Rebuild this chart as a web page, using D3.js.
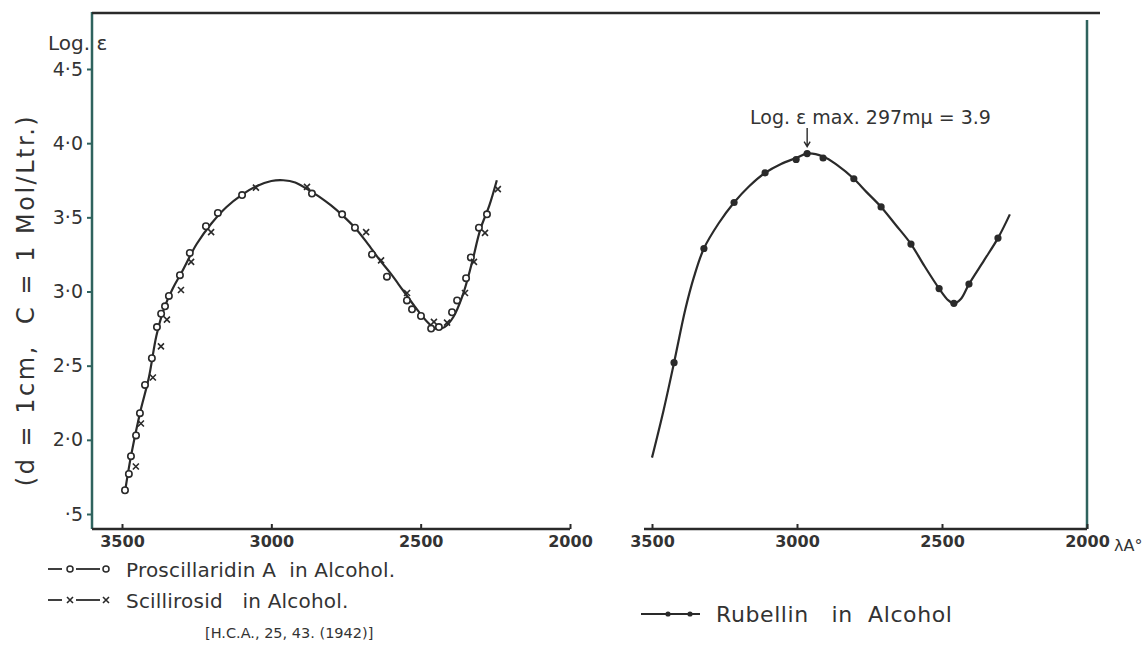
<!DOCTYPE html>
<html lang="en">
<head>
  <meta charset="UTF-8">
  <title>Log ε spectra</title>
  <script src="https://d3js.org/d3.v7.min.js"></script>
  <style>
    body { margin: 0; background: #fff; }
    text { font-family: "DejaVu Sans", sans-serif; fill: #333; white-space: pre; }
  </style>
</head>
<body>
  <svg id="chart" width="1148" height="668"></svg>

  <script>
    // wavelength ticks (Å) and log ε ticks
    const xTicks = [3500, 3000, 2500, 2000];
    const yTicks = [1.5, 2.0, 2.5, 3.0, 3.5, 4.0, 4.5];
    const yTickLabels = ['·5', '2·0', '2·5', '3·0', '3·5', '4·0', '4·5'];

    // Proscillaridin A (open circles) - [wavelength, log e]
    const proscillaridin = [
      [3490, 1.66], [3477, 1.77], [3470, 1.89], [3453, 2.03], [3440, 2.18],
      [3423, 2.37], [3400, 2.55], [3383, 2.76], [3369, 2.85], [3356, 2.90],
      [3343, 2.97], [3306, 3.11], [3273, 3.26], [3219, 3.44], [3179, 3.53],
      [3098, 3.65], [2864, 3.66], [2763, 3.52], [2720, 3.43], [2663, 3.25],
      [2613, 3.10], [2546, 2.94], [2529, 2.88], [2499, 2.835], [2465, 2.75],
      [2439, 2.76], [2395, 2.86], [2378, 2.94], [2348, 3.09], [2332, 3.23],
      [2305, 3.43], [2278, 3.52]
    ];

    // Scillirosid (crosses)
    const scillirosid = [
      [3467, 1.82], [3450, 2.11], [3410, 2.42], [3383, 2.63], [3363, 2.81],
      [3316, 3.01], [3282, 3.20], [3215, 3.40], [3065, 3.70], [2894, 3.705],
      [2696, 3.40], [2646, 3.21], [2559, 2.99], [2469, 2.795], [2425, 2.79],
      [2365, 2.99], [2335, 3.20], [2298, 3.395], [2255, 3.69]
    ];

    // hand drawn curve through both series
    const leftCurve = [
      [3490, 1.65], [3470, 1.89], [3440, 2.18], [3410, 2.42], [3385, 2.70],
      [3360, 2.88], [3330, 3.02], [3300, 3.13], [3250, 3.32], [3200, 3.46],
      [3150, 3.57], [3100, 3.65], [3050, 3.71], [3000, 3.745], [2960, 3.75],
      [2920, 3.735], [2880, 3.69], [2840, 3.64], [2800, 3.58], [2760, 3.51],
      [2720, 3.43], [2680, 3.33], [2640, 3.22], [2600, 3.12], [2560, 3.01],
      [2520, 2.90], [2480, 2.80], [2450, 2.75], [2420, 2.76], [2390, 2.83],
      [2360, 2.97], [2330, 3.18], [2300, 3.42], [2270, 3.58], [2245, 3.75]
    ];

    // Rubellin (filled dots)
    const rubellin = [
      [3424, 2.52], [3321, 3.29], [3217, 3.60], [3110, 3.80], [3003, 3.89],
      [2965, 3.93], [2910, 3.90], [2804, 3.76], [2710, 3.57], [2607, 3.32],
      [2510, 3.02], [2459, 2.92], [2407, 3.05], [2307, 3.36]
    ];

    const rightCurve = [
      [3500, 1.88], [3460, 2.20], [3424, 2.52], [3385, 2.88], [3355, 3.10],
      [3321, 3.29], [3270, 3.46], [3217, 3.60], [3165, 3.71], [3110, 3.80],
      [3055, 3.86], [3003, 3.90], [2965, 3.93], [2910, 3.91], [2860, 3.85],
      [2804, 3.76], [2760, 3.67], [2710, 3.57], [2660, 3.45], [2607, 3.32],
      [2560, 3.17], [2510, 3.02], [2478, 2.94], [2459, 2.92], [2435, 2.95],
      [2407, 3.05], [2355, 3.21], [2307, 3.36], [2266, 3.52]
    ];

    const svg = d3.select('#chart');
    const teal = '#2f635e';
    const ink = '#2a2a2a';

    const y = d3.scaleLinear().domain([1.5, 4.5]).range([514, 69]);
    const xLeft = d3.scaleLinear().domain([3500, 2000]).range([122, 570]);
    const xRight = d3.scaleLinear().domain([3500, 2000]).range([652, 1087]);
    const axisY = 529;

    // frame lines
    svg.append('line').attr('x1', 92).attr('x2', 92).attr('y1', 12).attr('y2', axisY)
      .attr('stroke', teal).attr('stroke-width', 2.5);
    svg.append('line').attr('x1', 92).attr('x2', 1100).attr('y1', 13).attr('y2', 13)
      .attr('stroke', ink).attr('stroke-width', 2.5);
    svg.append('line').attr('x1', 1087).attr('x2', 1087).attr('y1', 20).attr('y2', axisY)
      .attr('stroke', teal).attr('stroke-width', 2.5);
    svg.append('line').attr('x1', 92).attr('x2', xLeft(2000)).attr('y1', axisY).attr('y2', axisY)
      .attr('stroke', ink).attr('stroke-width', 2.5);
    svg.append('line').attr('x1', 644).attr('x2', 1087).attr('y1', axisY).attr('y2', axisY)
      .attr('stroke', ink).attr('stroke-width', 2.5);

    // y axis ticks
    const gy = svg.append('g').attr('transform', 'translate(92,0)')
      .call(d3.axisLeft(y).tickValues(yTicks).tickSize(5).tickPadding(4)
        .tickFormat((d, i) => yTickLabels[i]));
    gy.select('.domain').remove();
    gy.selectAll('line').attr('stroke', teal).attr('stroke-width', 2);
    gy.selectAll('text').style('font-size', '19px').attr('fill', '#333').attr('font-family', 'DejaVu Sans');

    // x axes
    [xLeft, xRight].forEach(xs => {
      const g = svg.append('g').attr('transform', `translate(0,${axisY})`)
        .call(d3.axisBottom(xs).tickValues(xTicks).tickSize(-5).tickPadding(7).tickFormat(d3.format('d')));
      g.select('.domain').remove();
      g.selectAll('line').attr('stroke', ink).attr('stroke-width', 2);
      g.selectAll('text').style('font-size', '16px').style('font-weight', 'bold')
        .attr('fill', '#333').attr('font-family', 'DejaVu Sans');
    });

    // curves
    const lineL = d3.line().x(d => xLeft(d[0])).y(d => y(d[1])).curve(d3.curveCatmullRom);
    const lineR = d3.line().x(d => xRight(d[0])).y(d => y(d[1])).curve(d3.curveCatmullRom);
    svg.append('path').datum(leftCurve).attr('d', lineL)
      .attr('fill', 'none').attr('stroke', ink).attr('stroke-width', 2.2);
    svg.append('path').datum(rightCurve).attr('d', lineR)
      .attr('fill', 'none').attr('stroke', ink).attr('stroke-width', 2.2);

    // markers
    svg.append('g').selectAll('circle').data(proscillaridin).join('circle')
      .attr('cx', d => xLeft(d[0])).attr('cy', d => y(d[1])).attr('r', 3.2)
      .attr('fill', '#fff').attr('stroke', ink).attr('stroke-width', 1.6);

    const cross = (g, cx, cy, s) => {
      g.append('path').attr('d', `M${cx - s},${cy - s}L${cx + s},${cy + s}M${cx - s},${cy + s}L${cx + s},${cy - s}`)
        .attr('stroke', ink).attr('stroke-width', 1.6).attr('fill', 'none');
    };
    const gx = svg.append('g');
    scillirosid.forEach(d => cross(gx, xLeft(d[0]) + 4, y(d[1]), 3));

    svg.append('g').selectAll('circle').data(rubellin).join('circle')
      .attr('cx', d => xRight(d[0])).attr('cy', d => y(d[1])).attr('r', 3.6)
      .attr('fill', ink);

    // labels
    svg.append('text').attr('x', 48).attr('y', 50).style('font-size', '20px').text('Log. ε');
    svg.append('text')
      .attr('transform', 'translate(34,300) rotate(-90)')
      .attr('text-anchor', 'middle').style('font-size', '24px').style('letter-spacing', '2.5px')
      .text('(d = 1cm,  C = 1 Mol/Ltr.)');
    svg.append('text').attr('x', 1114).attr('y', 551).style('font-size', '16px').text('λA°');

    // annotation at max
    svg.append('text').attr('x', 750).attr('y', 124).style('font-size', '19px')
      .text('Log. ε max. 297mμ = 3.9');
    svg.append('path').attr('d', `M${xRight(2965)},128V${y(3.93) - 8}M${xRight(2965) - 3},${y(3.93) - 12}L${xRight(2965)},${y(3.93) - 7}L${xRight(2965) + 3},${y(3.93) - 12}`)
      .attr('stroke', ink).attr('fill', 'none').attr('stroke-width', 1.4);

    // legend
    const leg = svg.append('g');
    function legendSym(yy, kind) {
      leg.append('line').attr('x1', 48).attr('x2', 62).attr('y1', yy).attr('y2', yy).attr('stroke', ink).attr('stroke-width', 1.8);
      leg.append('line').attr('x1', 76).attr('x2', 100).attr('y1', yy).attr('y2', yy).attr('stroke', ink).attr('stroke-width', 1.8);
      [70, 106].forEach(cx => {
        if (kind === 'o') {
          leg.append('circle').attr('cx', cx).attr('cy', yy).attr('r', 3).attr('fill', '#fff').attr('stroke', ink).attr('stroke-width', 1.5);
        } else {
          cross(leg, cx, yy, 3);
        }
      });
    }
    legendSym(569, 'o');
    legendSym(600, 'x');
    leg.append('text').attr('x', 126).attr('y', 577).style('font-size', '20px').style('letter-spacing', '0.2px')
      .text('Proscillaridin A  in Alcohol.');
    leg.append('text').attr('x', 126).attr('y', 608).style('font-size', '20px').style('letter-spacing', '0.2px')
      .text('Scillirosid   in Alcohol.');
    leg.append('text').attr('x', 205).attr('y', 638).style('font-size', '14.5px').text('[H.C.A., 25, 43. (1942)]');

    leg.append('line').attr('x1', 641).attr('x2', 700).attr('y1', 614).attr('y2', 614).attr('stroke', ink).attr('stroke-width', 1.8);
    [668, 690].forEach(cx => leg.append('circle').attr('cx', cx).attr('cy', 614).attr('r', 2.6).attr('fill', ink));
    leg.append('text').attr('x', 716).attr('y', 622).style('font-size', '22px').style('letter-spacing', '0.6px')
      .text('Rubellin   in  Alcohol');
  </script>
</body>
</html>
